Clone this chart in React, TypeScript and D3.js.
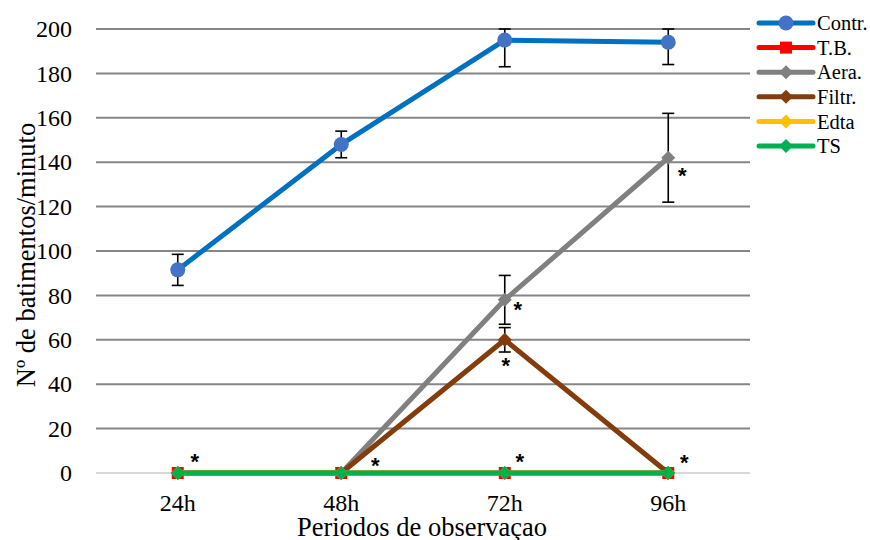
import React from "react";
import * as d3 from "d3";

const categories = ["24h", "48h", "72h", "96h"];
const contr = [91.5, 148, 195, 194];
const contrErr = [7, 6, 12, 10];
const tb = [0, 0, 0, 0];
const aera = [0, 0, 78, 142];
const aeraErr = [0, 0, 11, 20];
const filtr = [0, 0, 60, 0];
const filtrErr = [0, 0, 5.5, 0];
const edta = [0, 0, 0, 0];
const ts = [0, 0, 0, 0];
const yTicks = [0, 20, 40, 60, 80, 100, 120, 140, 160, 180, 200];

const seriesList = [
  { name: "Contr.", values: contr, err: contrErr, color: "#0070C0", marker: "circle", mcolor: "#4472C4" },
  { name: "T.B.", values: tb, err: null, color: "#FF0000", marker: "square", mcolor: "#FF0000" },
  { name: "Aera.", values: aera, err: aeraErr, color: "#808080", marker: "diamond", mcolor: "#808080" },
  { name: "Filtr.", values: filtr, err: filtrErr, color: "#843C0C", marker: "diamond", mcolor: "#843C0C" },
  { name: "Edta", values: edta, err: null, color: "#FFC000", marker: "diamond", mcolor: "#FFC000" },
  { name: "TS", values: ts, err: null, color: "#00B050", marker: "diamond", mcolor: "#00B050" },
];

// asterisks: [category index, value, dx, dy] (offset of glyph centre from point)
const asterisks: [number, number, number, number][] = [
  [0, 0, 17, -16],
  [1, 0, 34, -12],
  [2, 0, 15, -16],
  [3, 0, 16, -15],
  [2, 78, 13, 5],
  [2, 60, 1, 21],
  [3, 142, 14, 13],
];

const FONT = "Liberation Serif, Times New Roman, serif";

function Marker({ type, x, y, color }: { type: string; x: number; y: number; color: string }) {
  if (type === "circle") return <circle cx={x} cy={y} r={7.5} fill={color} />;
  if (type === "square") return <rect x={x - 6} y={y - 6} width={12} height={12} fill={color} />;
  const s = 7;
  return <path d={`M${x},${y - s}L${x + s},${y}L${x},${y + s}L${x - s},${y}Z`} fill={color} />;
}

export default function App() {
  const width = 870;
  const height = 540;
  const x = d3.scaleBand<string>().domain(categories).range([96, 750]);
  const y = d3.scaleLinear().domain([0, 200]).range([473, 29]);
  const cx = (i: number) => (x(categories[i]) as number) + x.bandwidth() / 2;
  const line = d3
    .line<number>()
    .x((_, i) => cx(i))
    .y((d) => y(d));

  return (
    <svg width={width} height={height} style={{ position: "absolute", left: 0, top: 0, background: "#fff", fontFamily: FONT }}>
      {yTicks.map((t) => (
        <g key={t}>
          <line x1={96} x2={750} y1={y(t)} y2={y(t)} stroke={t === 0 ? "#D9D9D9" : "#868686"} strokeWidth={2} />
          <text x={72} y={y(t)} dy="0.34em" textAnchor="end" style={{ fontFamily: FONT }} fontSize={24} fill="#000">
            {t}
          </text>
        </g>
      ))}
      {categories.map((c, i) => (
        <text key={c} x={cx(i)} y={511} textAnchor="middle" style={{ fontFamily: FONT }} fontSize={24} fill="#000">
          {c}
        </text>
      ))}
      <text x={422} y={536} textAnchor="middle" style={{ fontFamily: FONT }} fontSize={26.5} fill="#000">
        Periodos de observaçao
      </text>
      <text
        transform={`translate(35,255) rotate(-90)`}
        textAnchor="middle"
        style={{ fontFamily: FONT }}
        fontSize={26.5}
        fill="#000"
      >
        Nº de batimentos/minuto
      </text>

      {seriesList.map((s) => (
        <g key={s.name}>
          {s.err &&
            s.values.map((v, i) =>
              s.err![i] > 0 ? (
                <g key={i} stroke="#000" strokeWidth={1.6}>
                  <line x1={cx(i)} x2={cx(i)} y1={y(Math.min(200, v + s.err![i]))} y2={y(v - s.err![i])} />
                  <line x1={cx(i) - 6} x2={cx(i) + 6} y1={y(Math.min(200, v + s.err![i]))} y2={y(Math.min(200, v + s.err![i]))} />
                  <line x1={cx(i) - 6} x2={cx(i) + 6} y1={y(v - s.err![i])} y2={y(v - s.err![i])} />
                </g>
              ) : null
            )}
          <path d={line(s.values) || ""} fill="none" stroke={s.color} strokeWidth={5} strokeLinejoin="round" />
          {s.values.map((v, i) => (
            <Marker key={i} type={s.marker} x={cx(i)} y={y(v)} color={s.mcolor} />
          ))}
        </g>
      ))}

      {asterisks.map(([i, v, dx, dy], k) => (
        <text key={k} x={cx(i) + dx} y={y(v) + dy + 12} textAnchor="middle" style={{ fontFamily: "Liberation Sans, Arial, sans-serif" }} fontSize={22} fontWeight="bold" fill="#000">
          *
        </text>
      ))}

      {seriesList.map((s, k) => {
        const ly = 23 + k * 24.6;
        return (
          <g key={s.name}>
            <line x1={759} x2={813} y1={ly} y2={ly} stroke={s.color} strokeWidth={5} strokeLinecap="round" />
            <Marker type={s.marker} x={786} y={ly} color={s.mcolor} />
            <text x={817} y={ly} dy="0.35em" style={{ fontFamily: FONT }} fontSize={20.5} fill="#000">
              {s.name}
            </text>
          </g>
        );
      })}
    </svg>
  );
}
